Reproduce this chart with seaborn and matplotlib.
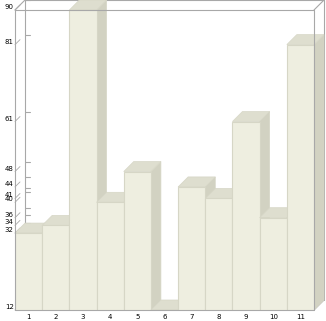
import numpy as np
import pandas as pd
import matplotlib
matplotlib.use("Agg")
import matplotlib.pyplot as plt
import seaborn as sns
from matplotlib.patches import Polygon

categories = ["1", "2", "3", "4", "5", "6", "7", "8", "9", "10", "11"]
values = [32, 34, 90, 40, 48, 12, 44, 41, 61, 36, 81]
tick_values = [12, 32, 34, 36, 40, 41, 44, 48, 61, 81, 90]

FRONT = "#EEEEE0"
TOP = "#DEDECF"
SIDE = "#D2D2C2"
EDGE = "#D6D6C6"
BOX = "#A8A8A8"
DEPTH = 10  # pixels of 3D offset

sns.set_theme(style="white")
plt.rcParams["font.family"] = ["DejaVu Sans"]

W, H = 326, 321
fig = plt.figure(figsize=(W / 100, H / 100), dpi=100)
ax = fig.add_axes([15 / W, 11 / H, 299 / W, 300 / H])

df = pd.DataFrame({"cat": categories, "val": values})
sns.barplot(data=df, x="cat", y="val", color=FRONT, saturation=1, width=1,
            edgecolor=EDGE, linewidth=0.8, ax=ax)
ymin, ymax = min(tick_values), max(tick_values)
ax.set_ylim(ymin, ymax)
ax.set_xlim(-0.5, len(categories) - 0.5)
for s in ax.spines.values():
    s.set_visible(False)

fig.canvas.draw()
inv = ax.transData.inverted()


def off(x, y, px=DEPTH, py=DEPTH):
    p = ax.transData.transform((x, y)) + np.array([px, py])
    return inv.transform(p)


for i, bar in enumerate(ax.patches):
    x0 = bar.get_x()
    w = bar.get_width()
    top = bar.get_y() + bar.get_height()
    x1 = x0 + w
    bar.set_zorder(5 + 2 * i + 1)
    side = [(x1, ymin), tuple(off(x1, ymin)), tuple(off(x1, top)), (x1, top)]
    topf = [(x0, top), tuple(off(x0, top)), tuple(off(x1, top)), (x1, top)]
    ax.add_patch(Polygon(side, closed=True, facecolor=SIDE, edgecolor=EDGE,
                         linewidth=0.5, zorder=5 + 2 * i, clip_on=False))
    ax.add_patch(Polygon(topf, closed=True, facecolor=TOP, edgecolor=EDGE,
                         linewidth=0.5, zorder=5 + 2 * i, clip_on=False))

xl, xr = ax.get_xlim()
lines_front = [
    [(xl, ymin), (xl, ymax)],
    [(xl, ymax), (xr, ymax)],
    [(xr, ymin), (xr, ymax)],
    [(xl, ymin), (xr, ymin)],
]
lines_back = [
    [tuple(off(xl, ymin)), tuple(off(xl, ymax))],
    [tuple(off(xl, ymax)), tuple(off(xr, ymax))],
    [tuple(off(xr, ymin)), tuple(off(xr, ymax))],
    [(xl, ymax), tuple(off(xl, ymax))],
    [(xr, ymax), tuple(off(xr, ymax))],
    [(xr, ymin), tuple(off(xr, ymin))],
]
for seg in lines_back:
    (a, b), (c, d) = seg
    ax.plot([a, c], [b, d], color=BOX, lw=0.8, clip_on=False, zorder=2)
for seg in lines_front:
    (a, b), (c, d) = seg
    ax.plot([a, c], [b, d], color=BOX, lw=0.8, clip_on=False, zorder=60)

# back-plane tick marks and front slashes
for v in tick_values:
    b0 = off(xl, v)
    b1 = off(xl, v, DEPTH + 5, DEPTH)
    ax.plot([b0[0], b1[0]], [b0[1], b1[1]], color=BOX, lw=0.8,
            clip_on=False, zorder=3)
    s1 = off(xl, v, 5, 5)
    ax.plot([xl, s1[0]], [v, s1[1]], color=BOX, lw=0.6, clip_on=False, zorder=3)

ax.set_yticks(tick_values)
ax.set_yticklabels([str(v) for v in tick_values], fontsize=5, color="black")
for lbl in ax.get_yticklabels():
    lbl.set_va("bottom")
ax.tick_params(axis="y", length=0, pad=1)
ax.set_xticks(range(len(categories)))
ax.set_xticklabels(categories, fontsize=5, color="black")
ax.tick_params(axis="x", length=0, pad=3)
ax.set_xlabel("")
ax.set_ylabel("")

fig.savefig("out.png", dpi=100, facecolor="white")
